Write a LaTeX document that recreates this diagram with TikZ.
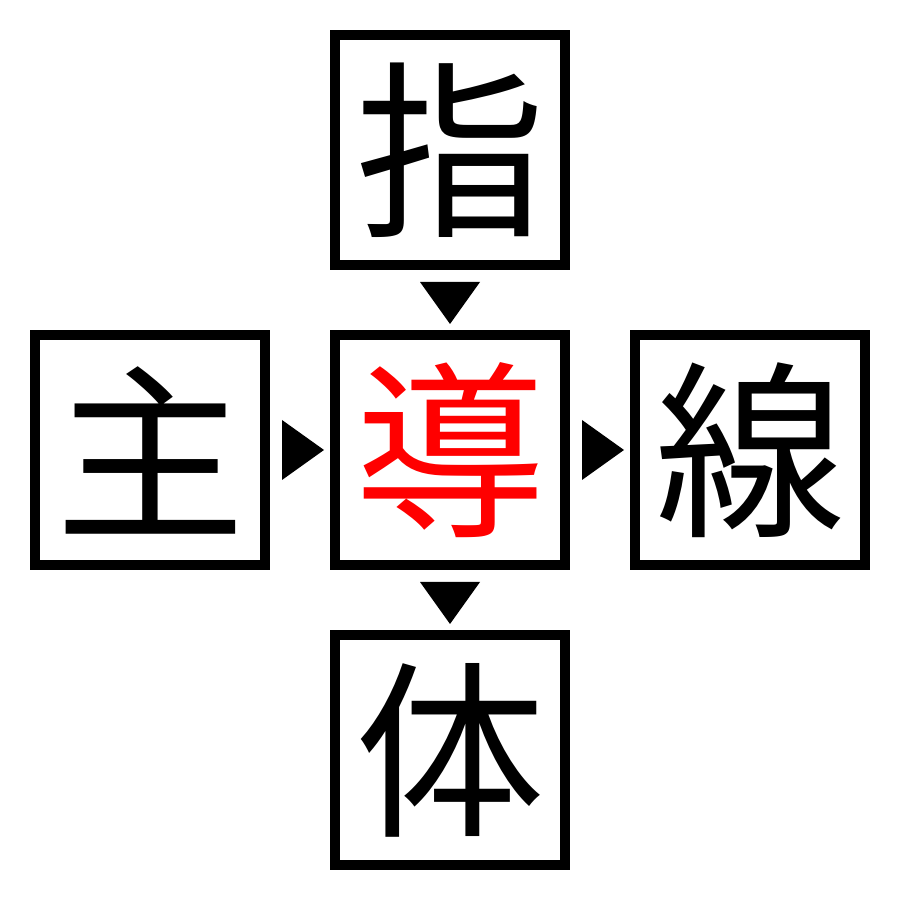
\documentclass[tikz,border=0pt]{standalone}
\usepackage{fontspec}
\newfontfamily\cjk{Noto Sans CJK JP}
\usetikzlibrary{positioning}
\tikzset{
  kanji/.style={draw, line width=10pt, minimum size=230pt, inner sep=0pt,
    font=\cjk\fontsize{190pt}{190pt}\selectfont},
}

\begin{document}
\begin{tikzpicture}[node distance=60pt]
\useasboundingbox (0pt,0pt) rectangle (900pt,900pt);
\node (mid) [kanji, text=red] at (450pt, 450pt) {導};
\node (top) [kanji, above=of mid] {指};
\node (bot) [kanji, below=of mid] {体};
\node (lft) [kanji, left=of mid] {主};
\node (rgt) [kanji, right=of mid] {線};
\fill (top.south) ++(-30pt,-12pt) -- ++(60pt,0pt) -- ++(-30pt,-42pt) -- cycle;
\fill (mid.south) ++(-30pt,-12pt) -- ++(60pt,0pt) -- ++(-30pt,-42pt) -- cycle;
\fill (lft.east) ++(12pt,30pt) -- ++(0pt,-60pt) -- ++(42pt,30pt) -- cycle;
\fill (mid.east) ++(12pt,30pt) -- ++(0pt,-60pt) -- ++(42pt,30pt) -- cycle;
\end{tikzpicture}
\end{document}
